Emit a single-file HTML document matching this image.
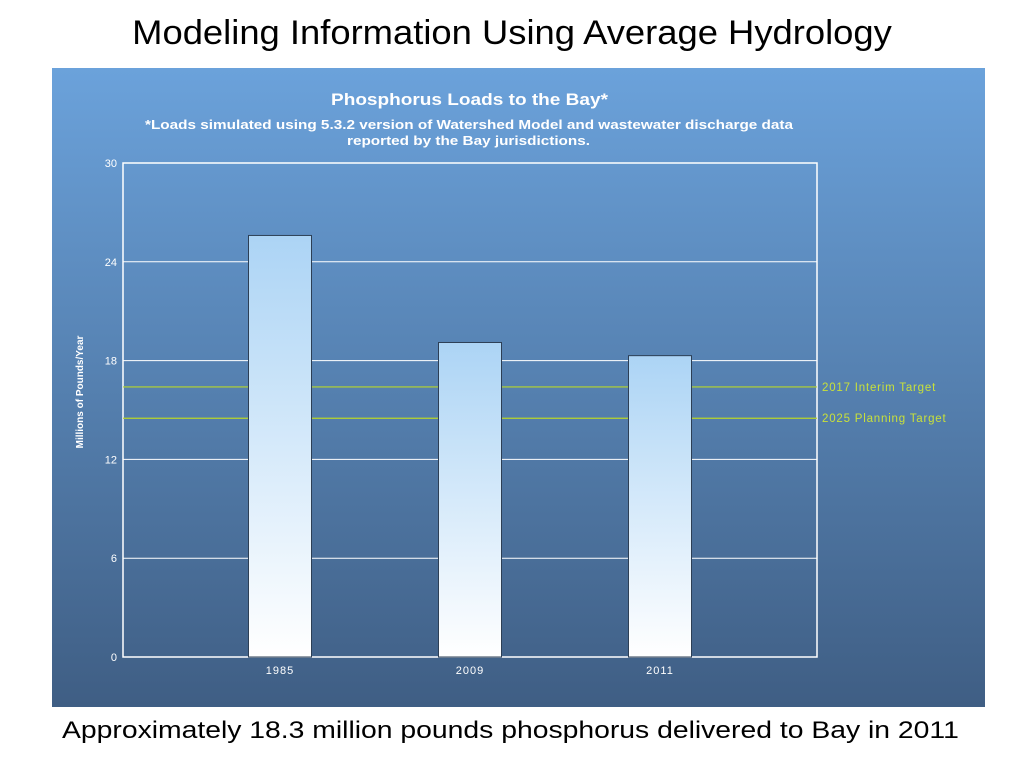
<!DOCTYPE html>
<html><head><meta charset="utf-8"><style>
body{margin:0;width:1024px;height:768px;background:#fff;font-family:"Liberation Sans",sans-serif;overflow:hidden}
#t{position:absolute;left:0;width:1024px;top:14px;text-align:center;font-size:34px;color:#000;transform:scaleX(1.07);transform-origin:512px 0}
#c{position:absolute;left:62px;top:717px;font-size:24px;color:#000;transform:scaleX(1.18);transform-origin:0 0;white-space:nowrap}
svg{position:absolute;left:0;top:0}
</style></head><body>
<div id="t">Modeling Information Using Average Hydrology</div>
<svg width="1024" height="768">
<defs>
<linearGradient id="bg" x1="0" y1="0" x2="0" y2="1"><stop offset="0" stop-color="#6ba2db"/><stop offset="1" stop-color="#3f5e84"/></linearGradient>
<linearGradient id="bar" x1="0" y1="0" x2="0" y2="1"><stop offset="0" stop-color="#acd4f5"/><stop offset="1" stop-color="#ffffff"/></linearGradient>
</defs>
<rect x="52" y="68" width="933" height="639" fill="url(#bg)"/>
<text x="331" y="105" textLength="277" lengthAdjust="spacingAndGlyphs" font-size="17" font-weight="bold" fill="#fff">Phosphorus Loads to the Bay*</text>
<text x="145" y="129" textLength="648" lengthAdjust="spacingAndGlyphs" font-size="12.5" font-weight="bold" fill="#fff">*Loads simulated using 5.3.2 version of Watershed Model and wastewater discharge data</text>
<text x="347" y="145" textLength="243" lengthAdjust="spacingAndGlyphs" font-size="12.5" font-weight="bold" fill="#fff">reported by the Bay jurisdictions.</text>
<text transform="translate(83,392) rotate(-90)" text-anchor="middle" font-size="10" font-weight="bold" fill="#fff">Millions of Pounds/Year</text>
<g id="g"></g>
</svg>
<div id="c">Approximately 18.3 million pounds phosphorus delivered to Bay in 2011</div>
<script>
const categories=["1985","2009","2011"];
const values=[25.6,19.1,18.3];
const ticks=[0,6,12,18,24,30];
const targetNames=["2017 Interim Target","2025 Planning Target"];
const targetValues=[16.4,14.5];
const X0=123,X1=817,Y0=657,Y1=163,NS="http://www.w3.org/2000/svg";
const y=v=>Y0-(v/30)*(Y0-Y1);
const xc=i=>280+i*190;
const g=document.getElementById('g');
function mk(t,a){const e=document.createElementNS(NS,t);for(const k in a)e.setAttribute(k,a[k]);g.appendChild(e);return e;}
ticks.forEach(t=>{
 const l=mk('line',{x1:X0,x2:X1,y1:y(t),y2:y(t),stroke:'#fff','stroke-width':1});
 
 
 const tx=mk('text',{x:117,y:y(t)+4,'text-anchor':'end','font-size':11,fill:'#fff'});tx.textContent=t;
 
 
});
const fr=mk('rect',{x:X0,y:Y1,width:X1-X0,height:Y0-Y1,fill:'none',stroke:'#fff','stroke-width':1.5});


targetValues.forEach((v,i)=>{
 const l=mk('line',{x1:X0,x2:X1,y1:y(v),y2:y(v),stroke:'#b8d62a','stroke-width':1.2});
 
 
 const t=mk('text',{x:822,y:y(v)+4,'font-size':11.5,'letter-spacing':0.8,fill:'#c8e03a'});t.textContent=targetNames[i];
 
 
});
categories.forEach((c,i)=>{
 const r=mk('rect',{x:xc(i)-31.5,y:y(values[i]),width:63,height:Y0-y(values[i]),fill:'url(#bar)',stroke:'#2d3f55','stroke-width':1});
 
 
 const t=mk('text',{x:xc(i),y:674,'text-anchor':'middle','font-size':11,'letter-spacing':1,fill:'#fff'});t.textContent=c;
 
 
});
</script>
</body></html>
